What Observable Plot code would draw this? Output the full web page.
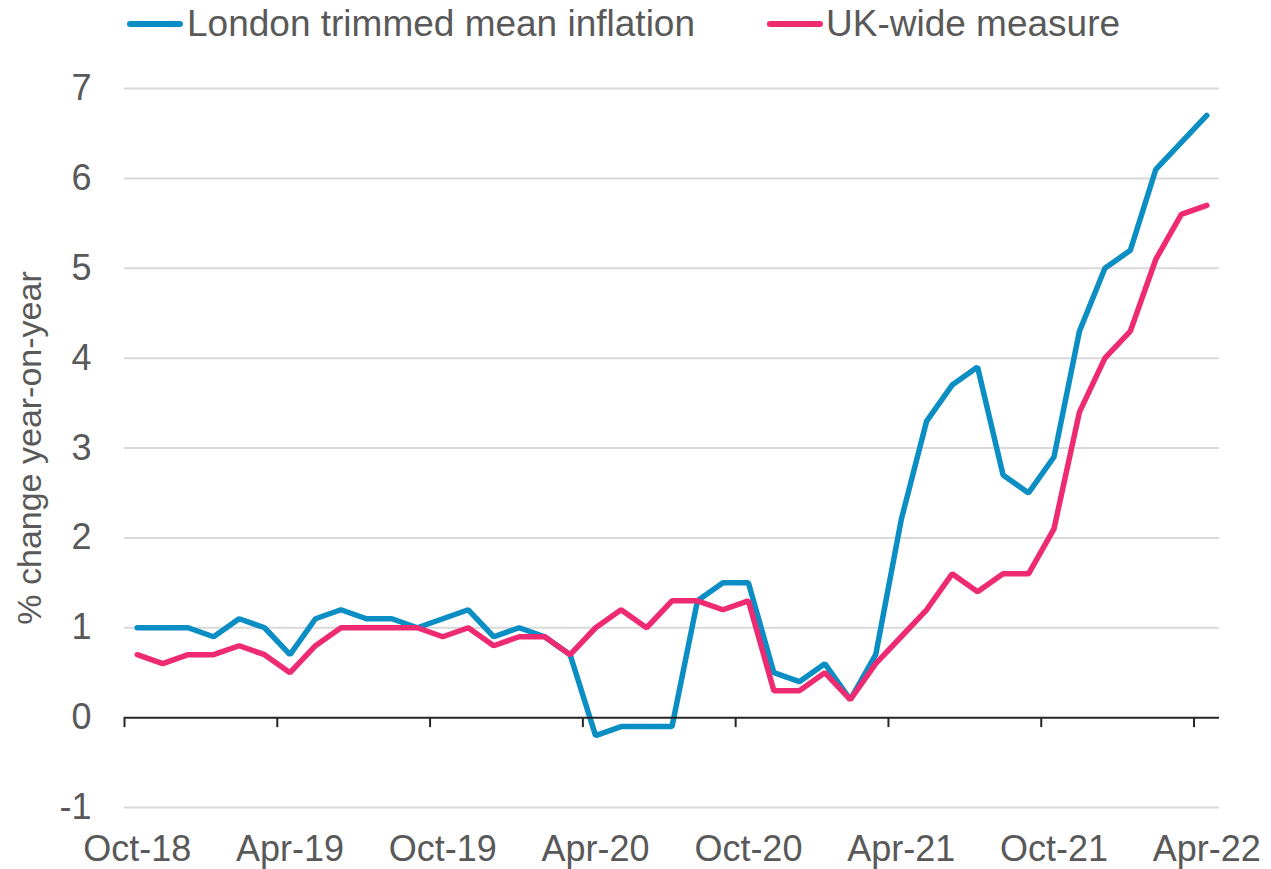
<!DOCTYPE html>
<html>
<head>
<meta charset="utf-8">
<script src="https://cdn.jsdelivr.net/npm/d3@7"></script>
<script src="https://cdn.jsdelivr.net/npm/@observablehq/plot@0.6"></script>
<style>
  html, body { margin: 0; padding: 0; background: #fff; }
  body { width: 1271px; height: 869px; overflow: hidden; font-family: "Liberation Sans", Arial, sans-serif; }
  #legend { position: relative; height: 50px; width: 1271px; }
  .sw { position: absolute; top: 21px; width: 56px; height: 6px; border-radius: 3px; }
  .lt { position: absolute; top: 0; height: 48px; line-height: 48px; font-size: 37px; color: #595959; white-space: nowrap; }
  svg { display: block; }
</style>
</head>
<body>
<div id="legend"></div>
<div id="chart"></div>
<script>
const months = [
  "Oct-18","Nov-18","Dec-18","Jan-19","Feb-19","Mar-19","Apr-19","May-19","Jun-19","Jul-19","Aug-19","Sep-19",
  "Oct-19","Nov-19","Dec-19","Jan-20","Feb-20","Mar-20","Apr-20","May-20","Jun-20","Jul-20","Aug-20","Sep-20",
  "Oct-20","Nov-20","Dec-20","Jan-21","Feb-21","Mar-21","Apr-21","May-21","Jun-21","Jul-21","Aug-21","Sep-21",
  "Oct-21","Nov-21","Dec-21","Jan-22","Feb-22","Mar-22","Apr-22"
];
const london = [
  1.0, 1.0, 1.0, 0.9, 1.1, 1.0, 0.7, 1.1, 1.2, 1.1, 1.1, 1.0,
  1.1, 1.2, 0.9, 1.0, 0.9, 0.7, -0.2, -0.1, -0.1, -0.1, 1.3, 1.5,
  1.5, 0.5, 0.4, 0.6, 0.2, 0.7, 2.2, 3.3, 3.7, 3.9, 2.7, 2.5,
  2.9, 4.3, 5.0, 5.2, 6.1, 6.4, 6.7
];
const ukWide = [
  0.7, 0.6, 0.7, 0.7, 0.8, 0.7, 0.5, 0.8, 1.0, 1.0, 1.0, 1.0,
  0.9, 1.0, 0.8, 0.9, 0.9, 0.7, 1.0, 1.2, 1.0, 1.3, 1.3, 1.2,
  1.3, 0.3, 0.3, 0.5, 0.2, 0.6, 0.9, 1.2, 1.6, 1.4, 1.6, 1.6,
  2.1, 3.4, 4.0, 4.3, 5.1, 5.6, 5.7
];
const xTickLabels = ["Oct-18","Apr-19","Oct-19","Apr-20","Oct-20","Apr-21","Oct-21","Apr-22"];
const yTicks = [-1, 0, 1, 2, 3, 4, 5, 6, 7];
const seriesNames = ["London trimmed mean inflation", "UK-wide measure"];
const colors = ["#0a8ec3", "#ee2a72"];

// legend
const legend = document.getElementById("legend");
const legendPos = [[127, 187], [767, 826]];
seriesNames.forEach((name, i) => {
  const sw = document.createElement("div");
  sw.className = "sw";
  sw.style.left = legendPos[i][0] + "px";
  sw.style.background = colors[i];
  legend.appendChild(sw);
  const t = document.createElement("div");
  t.className = "lt";
  t.style.left = legendPos[i][1] + "px";
  t.textContent = name;
  legend.appendChild(t);
});

const rows = [];
months.forEach((m, i) => {
  rows.push({m, i, v: london[i], s: seriesNames[0]});
  rows.push({m, i, v: ukWide[i], s: seriesNames[1]});
});
const tickIdx = xTickLabels.map(l => months.indexOf(l));

const chart = Plot.plot({
  width: 1271,
  height: 819,
  marginLeft: 124,
  marginRight: 52,
  marginTop: 38,
  marginBottom: 62,
  style: {fontFamily: '"Liberation Sans", Arial, sans-serif', fontSize: "36px", color: "#595959", background: "#fff"},
  x: {domain: [0, months.length], axis: null},
  y: {domain: [-1, 7], axis: null},
  color: {domain: seriesNames, range: colors},
  marks: [
    Plot.ruleY(yTicks.filter(d => d !== 0), {y: d => d, stroke: "#d9d9d9", strokeWidth: 2}),
    Plot.axisY({ticks: yTicks, tickSize: 0, tickPadding: 33, fontSize: 36, fill: "#595959", label: null, tickFormat: d => String(d)}),
    Plot.axisX({ticks: tickIdx.map(i => i + 0.5), tickSize: 0, tickPadding: 28, fontSize: 36, fill: "#595959", label: null,
      tickFormat: d => months[Math.round(d - 0.5)]}),
    Plot.text(["% change year-on-year"], {frameAnchor: "left", textAnchor: "middle", lineAnchor: "middle", rotate: -90, dx: -94, fontSize: 34, fill: "#595959"}),
    Plot.line(rows, {x: d => d.i + 0.5, y: "v", z: "s", stroke: "s", strokeWidth: 5.5, strokeLinejoin: "miter", strokeLinecap: "round"}),
    Plot.ruleY([0], {stroke: "#262626", strokeWidth: 2}),
    Plot.ruleX(tickIdx, {x: d => d, y1: () => 0, y2: () => 0, insetBottom: -10, stroke: "#262626", strokeWidth: 2})
  ]
});
document.getElementById("chart").appendChild(chart);
</script>
</body>
</html>
